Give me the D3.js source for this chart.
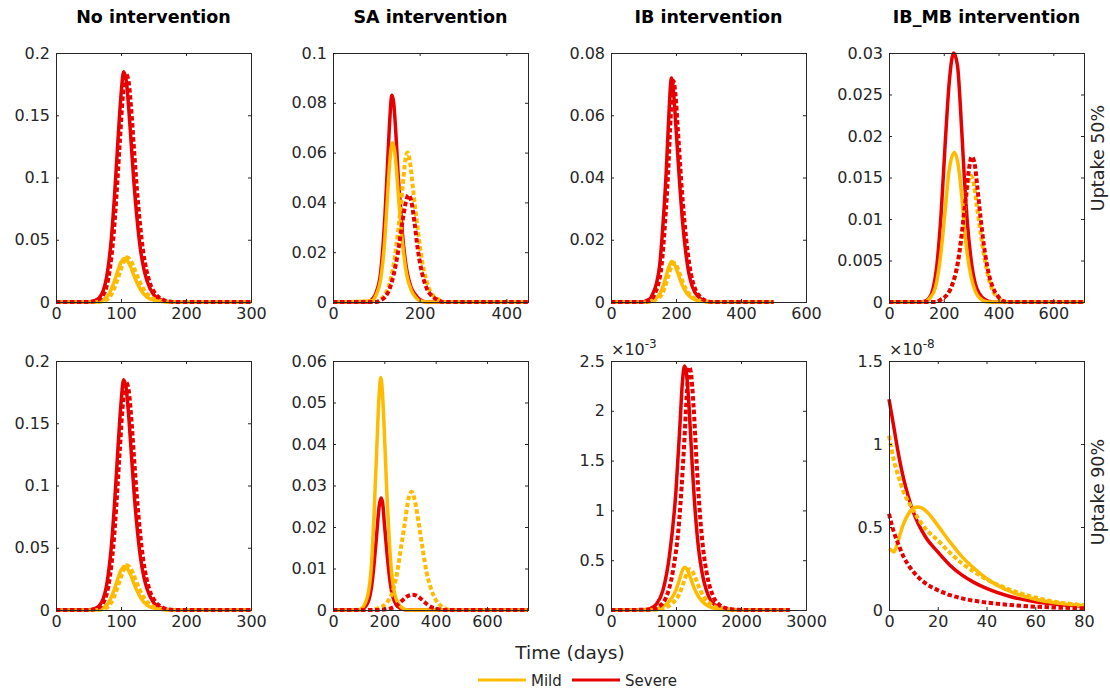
<!DOCTYPE html>
<html><head><meta charset="utf-8">
<script src="https://cdn.jsdelivr.net/npm/d3@7"></script>
<style>body{margin:0;background:#fff} text{font-family:"DejaVu Sans",sans-serif}</style>
</head><body><svg id="c" width="1110" height="691"></svg>
<script>
// ---------- labels ----------
const colTitles = ["No intervention", "SA intervention", "IB intervention", "IB_MB intervention"];
const rowLabels = ["Uptake 50%", "Uptake 90%"];
const seriesNames = ["Mild", "Severe"];

// ---------- No intervention (same for both uptakes) ----------
const noSevSolidT = [0,50,60,70,80,85,90,95,100,104,108,112,116,120,125,130,135,140,150,160,170,180,300];
const noSevSolidV = [0,0,0.001,0.006,0.027,0.05,0.085,0.127,0.166,0.185,0.178,0.155,0.125,0.095,0.065,0.042,0.027,0.017,0.006,0.002,0.0005,0,0];
const noSevDotT = [0,50,62,73,83,88,93,98,103,108,112,116,120,124,129,134,139,144,154,164,174,184,300];
const noSevDotV = [0,0,0.001,0.006,0.027,0.05,0.085,0.127,0.166,0.183,0.176,0.153,0.123,0.094,0.064,0.041,0.026,0.016,0.006,0.002,0.0005,0,0];
const noMildSolidT = [0,60,70,80,90,95,100,105,110,115,120,125,130,140,150,160,170,300];
const noMildSolidV = [0,0,0.001,0.005,0.017,0.025,0.032,0.035,0.033,0.028,0.021,0.015,0.01,0.004,0.0015,0.0005,0,0];
const noMildDotT = [0,64,74,84,94,99,104,109,114,119,124,129,134,144,154,164,174,300];
const noMildDotV = [0,0,0.001,0.005,0.017,0.025,0.032,0.036,0.034,0.029,0.022,0.016,0.011,0.0045,0.0017,0.0006,0,0];

// ---------- SA intervention, uptake 50% ----------
const sa50SevSolidT = [0,80,90,100,110,120,125,130,136,140,145,150,155,160,170,180,190,200,215,450];
const sa50SevSolidV = [0,0,0.001,0.004,0.012,0.035,0.052,0.07,0.083,0.08,0.068,0.052,0.04,0.028,0.013,0.006,0.003,0.001,0,0];
const sa50MildSolidT = [0,90,100,110,120,125,130,137,142,147,152,157,162,170,180,190,200,215,450];
const sa50MildSolidV = [0,0.0005,0.003,0.009,0.026,0.04,0.054,0.064,0.061,0.052,0.04,0.03,0.021,0.011,0.005,0.002,0.0005,0,0];
const sa50MildDotT = [0,100,110,120,130,140,150,160,167,172,177,185,195,205,215,225,240,255,450];
const sa50MildDotV = [0,0,0.001,0.003,0.007,0.015,0.028,0.045,0.057,0.06,0.057,0.045,0.03,0.017,0.009,0.004,0.0015,0,0];
const sa50SevDotT = [0,100,110,120,130,140,150,160,168,174,180,188,195,205,215,225,240,255,450];
const sa50SevDotV = [0,0,0.0007,0.002,0.005,0.011,0.02,0.032,0.04,0.043,0.041,0.032,0.022,0.012,0.006,0.003,0.001,0,0];

// ---------- IB intervention, uptake 50% ----------
const ib50SevSolidT = [0,100,110,120,130,140,150,160,170,178,186,192,200,210,220,230,240,250,270,290,310,500];
const ib50SevSolidV = [0,0,0.0005,0.001,0.003,0.006,0.012,0.025,0.042,0.06,0.072,0.068,0.056,0.04,0.026,0.016,0.009,0.005,0.0015,0.0003,0,0];
const ib50SevDotT = [0,106,116,126,136,146,156,166,176,184,192,198,206,216,226,236,246,256,276,296,316,500];
const ib50SevDotV = [0,0,0.0005,0.001,0.003,0.006,0.012,0.025,0.042,0.06,0.071,0.067,0.055,0.039,0.026,0.016,0.009,0.005,0.0015,0.0003,0,0];
const ib50MildSolidT = [0,110,130,150,160,170,180,187,195,205,215,225,240,260,280,300,500];
const ib50MildSolidV = [0,0,0.0007,0.0025,0.005,0.0085,0.0118,0.013,0.0122,0.0095,0.0065,0.0042,0.002,0.0007,0.0002,0,0];
const ib50MildDotT = [0,116,136,156,166,176,186,193,201,211,221,231,246,266,286,306,500];
const ib50MildDotV = [0,0,0.0007,0.0024,0.0048,0.0082,0.0114,0.0125,0.0118,0.0092,0.0063,0.0041,0.002,0.0007,0.0002,0,0];

// ---------- IB_MB intervention, uptake 50% ----------
const mb50SevSolidT = [0,120,130,145,160,175,190,205,220,236,250,265,275,285,300,315,330,350,380,712];
const mb50SevSolidV = [0,0,0.0001,0.0004,0.0015,0.0045,0.0105,0.019,0.0265,0.03,0.0285,0.021,0.015,0.01,0.005,0.0022,0.001,0.0003,0,0];
const mb50MildSolidT = [0,130,150,170,190,205,220,239,255,265,275,285,300,315,330,360,712];
const mb50MildSolidV = [0,0,0.0005,0.0018,0.006,0.011,0.016,0.018,0.016,0.013,0.009,0.006,0.003,0.0013,0.0005,0,0];
const mb50MildDotT = [0,170,190,210,230,250,265,280,290,298,308,320,335,350,365,380,400,430,712];
const mb50MildDotV = [0,0,0.0003,0.0008,0.002,0.0045,0.0078,0.012,0.0145,0.0152,0.0145,0.0118,0.0082,0.005,0.0027,0.0013,0.0005,0,0];
const mb50SevDotT = [0,170,190,210,230,250,265,280,292,302,312,322,335,350,365,380,400,430,712];
const mb50SevDotV = [0,0,0.0003,0.0008,0.002,0.0045,0.008,0.0125,0.016,0.0175,0.0168,0.014,0.01,0.006,0.0033,0.0017,0.0006,0,0];

// ---------- SA intervention, uptake 90% ----------
const sa90MildSolidT = [0,100,120,140,150,160,170,180,186,192,200,210,220,230,240,255,270,290,760];
const sa90MildSolidV = [0,0,0.001,0.005,0.011,0.023,0.038,0.052,0.056,0.053,0.043,0.028,0.016,0.008,0.004,0.0015,0.0005,0,0];
const sa90SevSolidT = [0,100,120,140,150,160,170,180,187,193,200,210,220,230,240,255,270,290,760];
const sa90SevSolidV = [0,0,0.0005,0.0025,0.0055,0.011,0.018,0.025,0.027,0.026,0.021,0.014,0.008,0.004,0.002,0.0007,0.0002,0,0];
const sa90MildDotT = [0,150,170,190,210,230,250,265,280,295,307,320,335,350,365,380,400,420,440,460,760];
const sa90MildDotV = [0,0,0.0003,0.0008,0.0018,0.004,0.009,0.015,0.021,0.027,0.0285,0.026,0.0205,0.0145,0.009,0.0055,0.0025,0.001,0.0003,0,0];
const sa90SevDotT = [0,170,200,230,250,270,290,310,330,350,370,390,410,440,760];
const sa90SevDotV = [0,0,0.0001,0.0005,0.0012,0.0023,0.0033,0.0037,0.0033,0.0023,0.0012,0.0005,0.0002,0,0];

// ---------- IB intervention, uptake 90% (x 10^-3) ----------
const ib90SevSolidT = [0,500,600,700,800,900,1000,1060,1100,1130,1160,1200,1250,1300,1350,1400,1500,1600,1700,1800,1900,2000,2750];
const ib90SevSolidV = [0,0.002,0.015,0.06,0.2,0.55,1.2,1.85,2.3,2.45,2.38,2.05,1.45,0.95,0.6,0.38,0.14,0.05,0.018,0.006,0.002,0,0];
const ib90SevDotT = [0,550,650,750,850,950,1050,1120,1170,1200,1230,1270,1320,1370,1420,1470,1570,1670,1770,1870,1970,2100,2750];
const ib90SevDotV = [0,0.002,0.01,0.04,0.13,0.38,0.9,1.6,2.2,2.44,2.38,2.05,1.45,0.95,0.6,0.38,0.14,0.05,0.018,0.006,0.002,0,0];
const ib90MildSolidT = [0,600,700,800,900,1000,1060,1100,1130,1170,1220,1280,1350,1450,1550,1650,1750,1850,2000,2750];
const ib90MildSolidV = [0,0.003,0.01,0.035,0.09,0.2,0.32,0.4,0.43,0.41,0.33,0.22,0.13,0.06,0.025,0.01,0.004,0.001,0,0];
const ib90MildDotT = [0,650,750,850,950,1050,1120,1170,1210,1250,1300,1360,1430,1530,1630,1730,1830,1930,2100,2750];
const ib90MildDotV = [0,0.002,0.008,0.025,0.07,0.16,0.28,0.37,0.41,0.39,0.32,0.22,0.13,0.06,0.025,0.01,0.004,0.001,0,0];

// ---------- IB_MB intervention, uptake 90% (x 10^-8) ----------
const mb90SevSolidT = [0,2,4,6,8,10,12,15,20,25,30,35,40,50,60,70,80];
const mb90SevSolidV = [1.27,1.1,0.93,0.79,0.68,0.59,0.52,0.44,0.35,0.27,0.21,0.165,0.13,0.08,0.05,0.033,0.022];
const mb90SevDotT = [0,1,2,4,6,8,10,15,20,25,30,40,50,60,70,80];
const mb90SevDotV = [0.58,0.52,0.47,0.39,0.32,0.27,0.23,0.16,0.12,0.09,0.07,0.045,0.03,0.02,0.014,0.01];
const mb90MildSolidT = [0,1,2,3,4,6,8,10,12,14,16,20,25,30,35,40,50,60,70,80];
const mb90MildSolidV = [0.37,0.36,0.35,0.38,0.43,0.52,0.58,0.615,0.62,0.61,0.585,0.51,0.41,0.32,0.25,0.19,0.11,0.065,0.04,0.025];
const mb90MildDotT = [0,1,2,4,6,8,10,12,15,20,25,30,35,40,50,60,70,80];
const mb90MildDotV = [1.05,0.97,0.9,0.8,0.71,0.65,0.6,0.55,0.49,0.42,0.345,0.28,0.23,0.185,0.12,0.075,0.045,0.03];

// ---------- axis ticks ----------
const xTicks = [[0,100,200,300],[0,200,400],[0,200,400,600],[0,200,400,600],
                [0,100,200,300],[0,200,400,600],[0,1000,2000,3000],[0,20,40,60,80]];
const yTicks = [[0,0.05,0.1,0.15,0.2],[0,0.02,0.04,0.06,0.08,0.1],[0,0.02,0.04,0.06,0.08],[0,0.005,0.01,0.015,0.02,0.025,0.03],
                [0,0.05,0.1,0.15,0.2],[0,0.01,0.02,0.03,0.04,0.05,0.06],[0,0.5,1,1.5,2,2.5],[0,0.5,1,1.5]];
const xMax = [300,450,600,712,300,760,3000,80];
const yMax = [0.2,0.1,0.08,0.03,0.2,0.06,2.5,1.5];
const yExp = [null,null,null,null,null,null,-3,-8];

const panelSeries = [
  [[noSevSolidT,noSevSolidV],[noMildSolidT,noMildSolidV],[noMildDotT,noMildDotV],[noSevDotT,noSevDotV]],
  [[sa50SevSolidT,sa50SevSolidV],[sa50MildSolidT,sa50MildSolidV],[sa50MildDotT,sa50MildDotV],[sa50SevDotT,sa50SevDotV]],
  [[ib50SevSolidT,ib50SevSolidV],[ib50MildSolidT,ib50MildSolidV],[ib50MildDotT,ib50MildDotV],[ib50SevDotT,ib50SevDotV]],
  [[mb50SevSolidT,mb50SevSolidV],[mb50MildSolidT,mb50MildSolidV],[mb50MildDotT,mb50MildDotV],[mb50SevDotT,mb50SevDotV]],
  [[noSevSolidT,noSevSolidV],[noMildSolidT,noMildSolidV],[noMildDotT,noMildDotV],[noSevDotT,noSevDotV]],
  [[sa90SevSolidT,sa90SevSolidV],[sa90MildSolidT,sa90MildSolidV],[sa90MildDotT,sa90MildDotV],[sa90SevDotT,sa90SevDotV]],
  [[ib90SevSolidT,ib90SevSolidV],[ib90MildSolidT,ib90MildSolidV],[ib90MildDotT,ib90MildDotV],[ib90SevDotT,ib90SevDotV]],
  [[mb90SevSolidT,mb90SevSolidV],[mb90MildSolidT,mb90MildSolidV],[mb90MildDotT,mb90MildDotV],[mb90SevDotT,mb90SevDotV]]
];
// style per series slot: severe solid, mild solid, mild dotted, severe dotted
const MILD = "#ffbb00", SEV = "#e80000";
const slotColor = [SEV, MILD, MILD, SEV];
const slotDotted = [false, false, true, true];

// ---------- layout ----------
const colLeft = [56, 333, 611, 889];
const rowTop = [53, 361];
const PW = 195, PH = 249;
const AX = "#262626";

const svg = d3.select("#c");
const fmt = d => String(+d.toPrecision(6));

for (let p = 0; p < 8; p++) {
  const r = Math.floor(p / 4), c = p % 4;
  const x0 = colLeft[c], y0 = rowTop[r];
  const g = svg.append("g").attr("transform", `translate(${x0},${y0})`);
  const x = d3.scaleLinear().domain([0, xMax[p]]).range([0, PW]);
  const y = d3.scaleLinear().domain([0, yMax[p]]).range([PH, 0]);

  const clipId = "clip" + p;
  g.append("clipPath").attr("id", clipId).append("rect")
    .attr("x", -2).attr("y", -3).attr("width", PW + 4).attr("height", PH + 5);

  const line = d3.line().x(d => x(d[0])).y(d => y(d[1])).curve(d3.curveMonotoneX);
  const lg = g.append("g").attr("clip-path", `url(#${clipId})`);
  panelSeries[p].forEach((s, i) => {
    const pts = s[0].map((t, k) => [t, s[1][k]]);
    lg.append("path").attr("d", line(pts))
      .attr("fill", "none").attr("stroke", slotColor[i])
      .attr("stroke-width", slotDotted[i] ? 4 : 3.5)
      .attr("stroke-dasharray", slotDotted[i] ? "4.5,2.5" : null)
      .attr("stroke-linejoin", "round");
  });

  // axes (MATLAB-style box, inward ticks)
  const tl = 3;
  const ax = g.append("g").attr("transform", `translate(0,${PH})`)
    .call(d3.axisBottom(x).tickValues(xTicks[p]).tickFormat(fmt).tickSize(-tl).tickPadding(6));
  const axT = g.append("g").call(d3.axisTop(x).tickValues(xTicks[p]).tickFormat("").tickSize(-tl));
  const ay = g.append("g").call(d3.axisLeft(y).tickValues(yTicks[p]).tickFormat(fmt).tickSize(-tl).tickPadding(6));
  const ayR = g.append("g").attr("transform", `translate(${PW},0)`)
    .call(d3.axisRight(y).tickValues(yTicks[p]).tickFormat("").tickSize(-tl));
  [ax, axT, ay, ayR].forEach(a => {
    a.select(".domain").attr("stroke", AX).attr("stroke-width", 1);
    a.selectAll(".tick line").attr("stroke", AX);
    a.selectAll("text").attr("fill", AX).attr("font-size", 16).attr("font-family", "DejaVu Sans");
  });

  if (yExp[p] !== null) {
    const t = g.append("text").attr("x", 0).attr("y", -6).attr("fill", AX).attr("font-size", 16);
    t.append("tspan").text("×10");
    t.append("tspan").attr("dy", -7).attr("font-size", 12).text(String(yExp[p]));
  }

  if (r === 0) {
    svg.append("text").attr("x", x0 + PW / 2).attr("y", 23).attr("text-anchor", "middle")
      .attr("font-weight", "bold").attr("font-size", 17.5).attr("fill", "#000").text(colTitles[c]);
  }
}

// row labels on right
const rowLabelY = [158, 492];
rowLabels.forEach((t, i) => {
  svg.append("text").attr("transform", `translate(1098,${rowLabelY[i]}) rotate(-90)`)
    .attr("text-anchor", "middle").attr("dominant-baseline", "central")
    .attr("font-size", 17.5).attr("fill", AX).text(t);
});

// x label
svg.append("text").attr("x", 570).attr("y", 659).attr("text-anchor", "middle")
  .attr("font-size", 18.5).attr("fill", AX).text("Time (days)");

// legend
const legX = [478, 572];
seriesNames.forEach((n, i) => {
  svg.append("line").attr("x1", legX[i]).attr("x2", legX[i] + 48).attr("y1", 680).attr("y2", 680)
    .attr("stroke", i === 0 ? MILD : SEV).attr("stroke-width", 3);
  svg.append("text").attr("x", legX[i] + 53).attr("y", 685.5).attr("font-size", 15).attr("fill", AX).text(n);
});
</script>
</body></html>
